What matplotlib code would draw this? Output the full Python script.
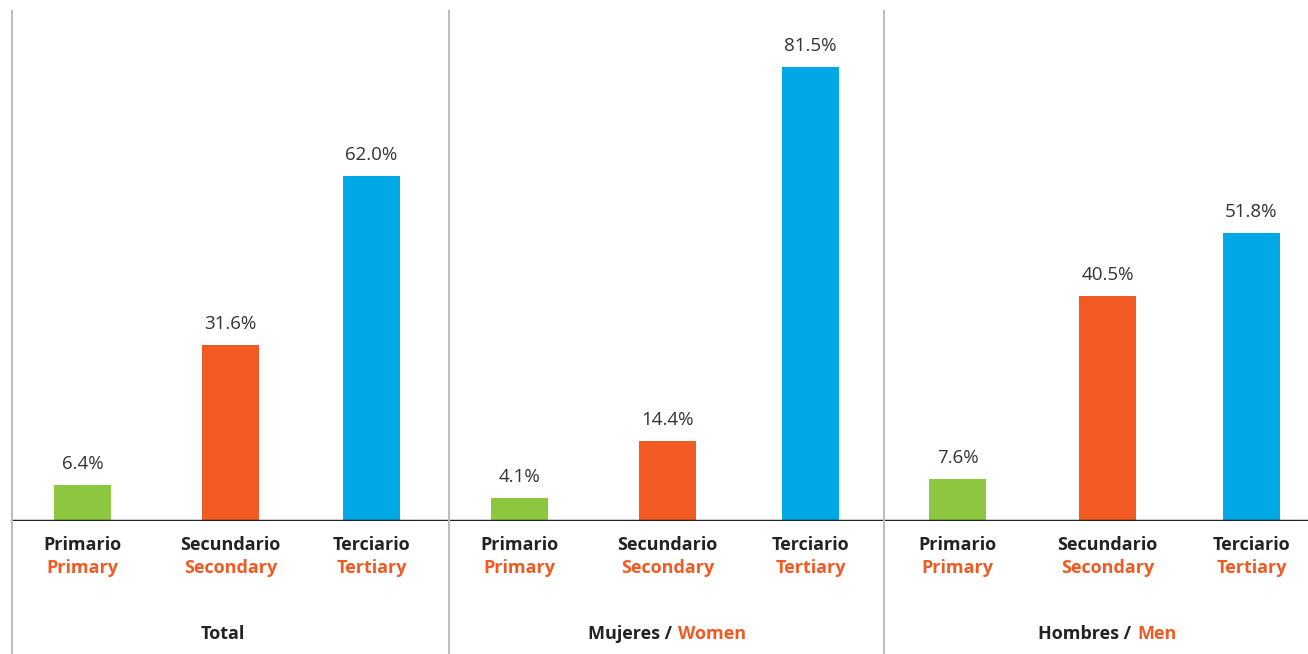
import matplotlib
matplotlib.use("Agg")
import matplotlib.pyplot as plt
from matplotlib.lines import Line2D

plt.rcParams["font.family"] = ["Open Sans", "DejaVu Sans"]

# data
groups_es = ["Total", "Mujeres", "Hombres"]
groups_en = [None, "Women", "Men"]
levels_es = ["Primario", "Secundario", "Terciario"]
levels_en = ["Primary", "Secondary", "Tertiary"]
values = [
    [6.4, 31.6, 62.0],   # Total
    [4.1, 14.4, 81.5],   # Mujeres / Women
    [7.6, 40.5, 51.8],   # Hombres / Men
]

level_colors = ["#8DC63F", "#F15A22", "#00A9E6"]
ORANGE = "#F15A22"
DARK = "#222222"

W, H = 1308, 654
fig = plt.figure(figsize=(W / 100, H / 100), dpi=100)

# layout in pixels: baseline at y=521 from top, 5.565 px per percent
base_px = 521
px_per_pct = 5.565
top_px = 11
ax = fig.add_axes([0, (H - base_px) / H, 1, (base_px - top_px) / H])
ax.set_xlim(0, W)
ax.set_ylim(0, (base_px - top_px) / px_per_pct)
ax.axis("off")

group_starts = [12, 449, 884]
bar_offsets_g = [
    [70.5, 218.5, 359.5],
    [70.5, 218.5, 361.5],
    [73.5, 223.5, 367.5],
]
bar_w = 57
lab_size = 13

mid_x = []
for g, start in enumerate(group_starts):
    xs = [start + o for o in bar_offsets_g[g]]
    mid_x.append(xs[1])
    ax.bar(xs, values[g], width=bar_w, color=level_colors, zorder=2)
    for x, v in zip(xs, values[g]):
        ax.annotate(f"{v:.1f}%", (x, v), xytext=(0, 12), textcoords="offset pixels",
                    ha="center", va="bottom", fontsize=13.5, color="#333333")

    for x, es, en in zip(xs, levels_es, levels_en):
        ax.annotate(es, (x, 0), xytext=(0, -24), textcoords="offset pixels",
                    ha="center", va="center", fontsize=lab_size, fontweight="bold",
                    color=DARK, annotation_clip=False)
        ax.annotate(en, (x, 0), xytext=(0, -47), textcoords="offset pixels",
                    ha="center", va="center", fontsize=lab_size, fontweight="bold",
                    color=ORANGE, annotation_clip=False)

# baseline
ax.axhline(0, xmin=12 / W, xmax=1, color=DARK, lw=2.5, zorder=3)

# separators
for sx in group_starts:
    fig.add_artist(Line2D([sx / W, sx / W], [0, (H - top_px) / H],
                          transform=fig.transFigure, color="#BDBDBD", lw=1.5))

# group titles (two-colour)
renderer = fig.canvas.get_renderer()
for g in range(3):
    cx = mid_x[g]
    if groups_en[g] is None:
        ax.annotate(groups_es[g], (cx - 8, 0), xytext=(0, -113), textcoords="offset pixels",
                    ha="center", va="center", fontsize=lab_size, fontweight="bold",
                    color=DARK, annotation_clip=False)
        continue
    t1 = ax.annotate(groups_es[g] + " /", (cx, 0), xytext=(0, -113), textcoords="offset pixels",
                     ha="left", va="center", fontsize=lab_size, fontweight="bold",
                     color=DARK, annotation_clip=False)
    t2 = ax.annotate(groups_en[g], (cx, 0), xytext=(0, -113), textcoords="offset pixels",
                     ha="left", va="center", fontsize=lab_size, fontweight="bold",
                     color=ORANGE, annotation_clip=False)
    w1 = t1.get_window_extent(renderer).width
    w2 = t2.get_window_extent(renderer).width
    gap = 6
    total = w1 + gap + w2
    t1.xyann = (-total / 2, -113)
    t2.xyann = (-total / 2 + w1 + gap, -113)

fig.savefig("out.png", dpi=100)
